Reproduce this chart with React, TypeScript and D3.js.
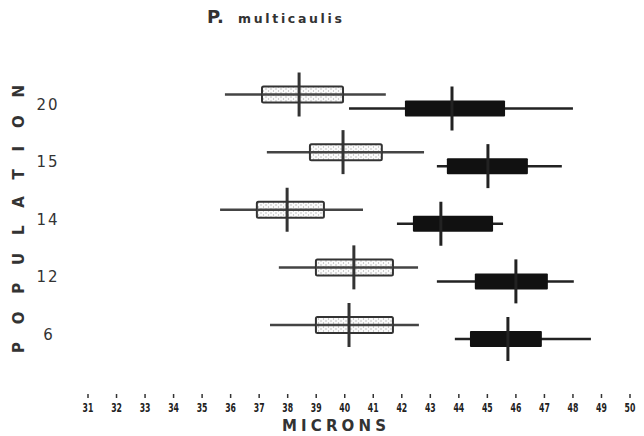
import React from "react";
import * as d3 from "d3";

const title = "multicaulis";
const populations = ["20", "15", "14", "12", "6"];
const openMin = [35.8, 37.27, 35.63, 37.69, 37.38];
const openLo = [37.1, 38.78, 36.92, 38.99, 38.99];
const openMean = [38.4, 39.94, 37.98, 40.32, 40.15];
const openHi = [39.94, 41.3, 39.27, 41.69, 41.69];
const openMax = [41.44, 42.78, 40.64, 42.57, 42.6];
const solidMin = [40.15, 43.23, 41.83, 43.23, 43.86];
const solidLo = [42.11, 43.58, 42.39, 44.56, 44.39];
const solidMean = [43.76, 45.02, 43.37, 46.0, 45.72];
const solidHi = [45.62, 46.42, 45.2, 47.12, 46.91];
const solidMax = [48.0, 47.61, 45.55, 48.03, 48.63];
const tickValues = d3.range(31, 51);

const W = 644;
const H = 436;

export default function App() {
  const x = d3.scaleLinear().domain([31, 50]).range([88, 630]);
  const y = d3.scalePoint<string>().domain(populations).range([101.5, 332]);
  const off = 7;
  const boxH = 16;
  const meanHalf = 22;
  const font = "'DejaVu Sans', sans-serif";

  return (
    <svg width={W} height={H} style={{ position: "absolute", left: 0, top: 0, background: "#fff" }}>
      <defs>
        <pattern id="stipple" width="5" height="4" patternUnits="userSpaceOnUse">
          <rect width="5" height="4" fill="#fafafa" />
          <rect x="0.5" y="0.5" width="1" height="1" fill="#8a8a8a" />
          <rect x="3" y="2.5" width="1" height="1" fill="#a0a0a0" />
        </pattern>
      </defs>

      {/* title */}
      <text x={207} y={23} fill="#333" fontFamily={font} fontWeight="bold" fontSize={18}>P.</text>
      <text x={238} y={23} fill="#333" fontFamily={font} fontWeight="bold" fontSize={12.5}
        textLength={104} lengthAdjust="spacing">{title}</text>

      {/* y axis label */}
      <text transform="translate(24,219) rotate(-90)" textAnchor="middle" fill="#333"
        fontFamily={font} fontWeight="bold" fontSize={15} textLength={268} lengthAdjust="spacing">
        POPULATION
      </text>

      {/* population labels */}
      {populations.map((p) => (
        <text key={p} x={48} y={(y(p) as number) + 8} textAnchor="middle" fill="#333"
          fontFamily={font} fontSize={15} fontWeight={500} letterSpacing={p.length > 1 ? 2 : 0}>
          {p}
        </text>
      ))}

      {/* open (stippled) bars */}
      {populations.map((p, i) => {
        const cy = (y(p) as number) - off;
        return (
          <g key={"o" + p}>
            <line x1={x(openMin[i])} x2={x(openMax[i])} y1={cy} y2={cy} stroke="#444" strokeWidth={2.5} />
            <rect x={x(openLo[i])} y={cy - boxH / 2} width={x(openHi[i]) - x(openLo[i])} height={boxH}
              rx={1.5} fill="url(#stipple)" stroke="#333" strokeWidth={2} />
            <line x1={x(openLo[i])} x2={x(openHi[i])} y1={cy} y2={cy} stroke="#444" strokeWidth={2.5} />
            <line x1={x(openMean[i])} x2={x(openMean[i])} y1={cy - meanHalf} y2={cy + meanHalf}
              stroke="#333" strokeWidth={3} />
          </g>
        );
      })}

      {/* solid bars */}
      {populations.map((p, i) => {
        const cy = (y(p) as number) + off;
        return (
          <g key={"s" + p}>
            <line x1={x(solidMin[i])} x2={x(solidMax[i])} y1={cy} y2={cy} stroke="#222" strokeWidth={2.5} />
            <rect x={x(solidLo[i])} y={cy - boxH / 2} width={x(solidHi[i]) - x(solidLo[i])} height={boxH}
              rx={1} fill="#111" />
            <line x1={x(solidMean[i])} x2={x(solidMean[i])} y1={cy - meanHalf} y2={cy + meanHalf}
              stroke="#222" strokeWidth={3} />
          </g>
        );
      })}

      {/* x axis */}
      {tickValues.map((t) => (
        <g key={t}>
          <line x1={x(t)} x2={x(t)} y1={394} y2={398} stroke="#333" strokeWidth={1.5} />
          <text x={x(t)} y={412} textAnchor="middle" fill="#222" fontFamily={font}
            fontWeight="bold" fontSize={12.5} transform={`translate(${x(t)},0) scale(0.62,1) translate(${-x(t)},0)`}>
            {t}
          </text>
        </g>
      ))}
      <text x={282} y={431} fill="#333" fontFamily={font} fontSize={15} fontWeight={600}
        textLength={104} lengthAdjust="spacing">MICRONS</text>
    </svg>
  );
}
